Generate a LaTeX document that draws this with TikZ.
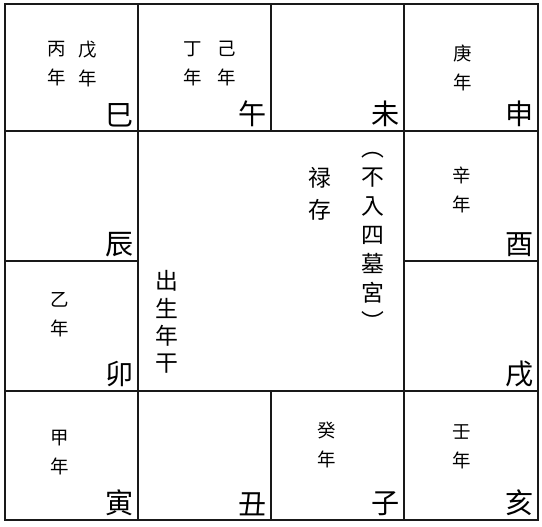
\documentclass[tikz,border=0pt]{standalone}
\usepackage{fontspec}
\newfontfamily\cjk{Noto Sans CJK TC}
\begin{document}
\begin{tikzpicture}[
    x=0.02cm, y=-0.02cm,
    % Styles
    grid/.style={draw=black!90, line width=1.1pt},
    branch/.style={font=\cjk\fontsize{16}{16}\selectfont, anchor=south east, inner sep=1.5pt},
    year/.style={font=\cjk\fontsize{10.5}{16.5}\selectfont, align=center, inner sep=0pt},
    star/.style={font=\cjk\fontsize{13}{18}\selectfont, align=center, inner sep=0pt}
  ]
  \useasboundingbox (0,0) rectangle (542,527);

  % --- 1. GRID ---
  \draw[grid] (5,4) rectangle (538,520);
  \draw[grid] (5,131) -- (538,131);
  \draw[grid] (5,391) -- (538,391);
  \draw[grid] (5,261) -- (138,261);
  \draw[grid] (404,261) -- (538,261);
  \foreach \x in {138,271,404} {
    \draw[grid] (\x,4) -- (\x,131);
    \draw[grid] (\x,391) -- (\x,520);
  }
  \draw[grid] (138,131) -- (138,391);
  \draw[grid] (404,131) -- (404,391);

  % --- 2. BRANCHES ---
  \foreach \x/\y/\b/\n in {138/131/巳/si, 271/131/午/wu, 404/131/未/wei, 538/131/申/shen,
                           138/261/辰/chen, 538/261/酉/you,
                           138/391/卯/mao, 538/391/戌/xu,
                           138/520/寅/yin, 271/520/丑/chou, 404/520/子/zi, 538/520/亥/hai}
    \node[branch] (\n) at ({\x-1},{\y-1}) {\b};

  % --- 3. YEAR STEMS ---
  \node[year] (bing) at (57,64) {丙\\年};
  \node[year] (wuy) at (88,64) {戊\\年};
  \node[year] (ding) at (193,64) {丁\\年};
  \node[year] (ji) at (227,64) {己\\年};
  \node[year] (geng) at (463,68) {庚\\年};
  \node[year] (xin) at (462,190) {辛\\年};
  \node[year] (yi) at (60,315) {乙\\年};
  \node[year] (jia) at (60,453) {甲\\年};
  \node[year] (gui) at (327,445) {癸\\年};
  \node[year] (ren) at (462,447) {壬\\年};

  % --- 4. CENTRE ---
  \node[star] (lucun) at (320,194) {禄\\存};
  \node[star, font=\cjk\fontsize{13}{16.5}\selectfont] (note) at (373,241) {︵\\不\\入\\四\\墓\\宮\\︶};
  \node[star, font=\cjk\fontsize{13}{15.5}\selectfont] (stem) at (167,322) {出\\生\\年\\干};
\end{tikzpicture}
\end{document}
